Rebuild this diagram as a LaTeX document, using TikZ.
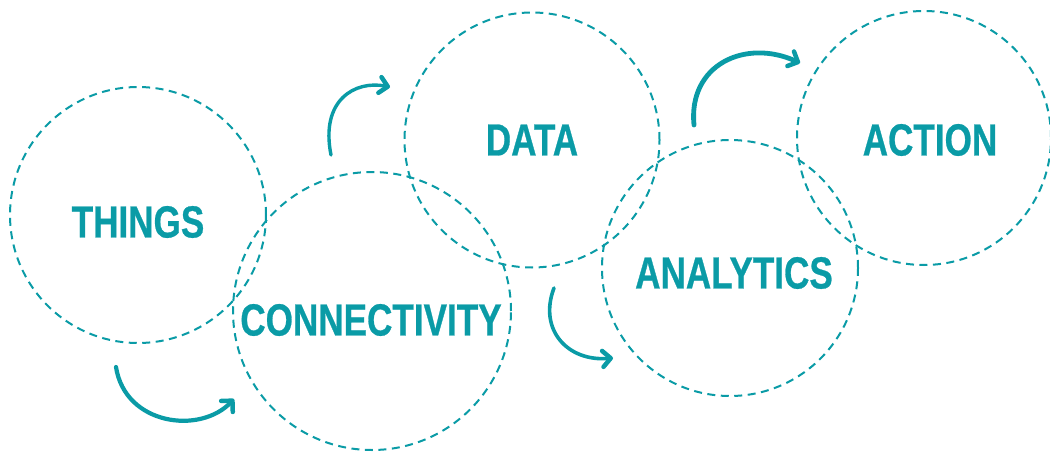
\documentclass[tikz,border=0pt]{standalone}
\usepackage{fontspec}
\usetikzlibrary{arrows.meta}
\newfontfamily\lblfont[FakeStretch=0.78,FakeBold=0.6]{Liberation Sans}
\definecolor{teal1}{HTML}{0A9BA6}
\tikzset{
  ring/.style={circle,draw=teal1,line width=2pt,dash pattern=on 8pt off 5.5pt,inner sep=0pt},
  lbl/.style={text=teal1,font=\lblfont\bfseries\fontsize{45}{45}\selectfont,inner sep=0pt},
  flow/.style={draw=teal1,line cap=round,-{Straight Barb[length=8pt,width=16pt,round,line width=4.5pt]}}
}
\begin{document}
\begin{tikzpicture}[x=1pt,y=-1pt]
\useasboundingbox (0,0) rectangle (1050,452);
\node[ring,minimum size=256pt] (c1) at (138,215) {};
\node[ring,minimum size=278pt] (c2) at (372,311) {};
\node[ring,minimum size=255pt] (c3) at (532,140) {};
\node[ring,minimum size=256pt] (c4) at (730,268) {};
\node[ring,minimum size=254pt] (c5) at (924,138) {};
\node[lbl] (t1) at (138,222) {THINGS};
\node[lbl] (t2) at (371,320) {CONNECTIVITY};
\node[lbl] (t3) at (532,140) {DATA};
\node[lbl] (t4) at (734,273) {ANALYTICS};
\node[lbl] (t5) at (930,140) {ACTION};
\coordinate (a1s) at (116,367); \coordinate (a1e) at (234,399);
\coordinate (a2s) at (331,155); \coordinate (a2e) at (390,87);
\coordinate (a3s) at (554,288); \coordinate (a3e) at (613,358);
\coordinate (a4s) at (694,125); \coordinate (a4e) at (800,63);
\draw[flow,line width=4.2pt] (a1s) .. controls (125,425) and (200,435) .. (a1e);
\draw[flow,line width=3.4pt] (a2s) .. controls (320,100) and (355,80) .. (a2e);
\draw[flow,line width=3.6pt] (a3s) .. controls (538,330) and (568,362) .. (a3e);
\draw[flow,line width=4.8pt] (a4s) .. controls (688,65) and (745,38) .. (a4e);
\end{tikzpicture}
\end{document}
